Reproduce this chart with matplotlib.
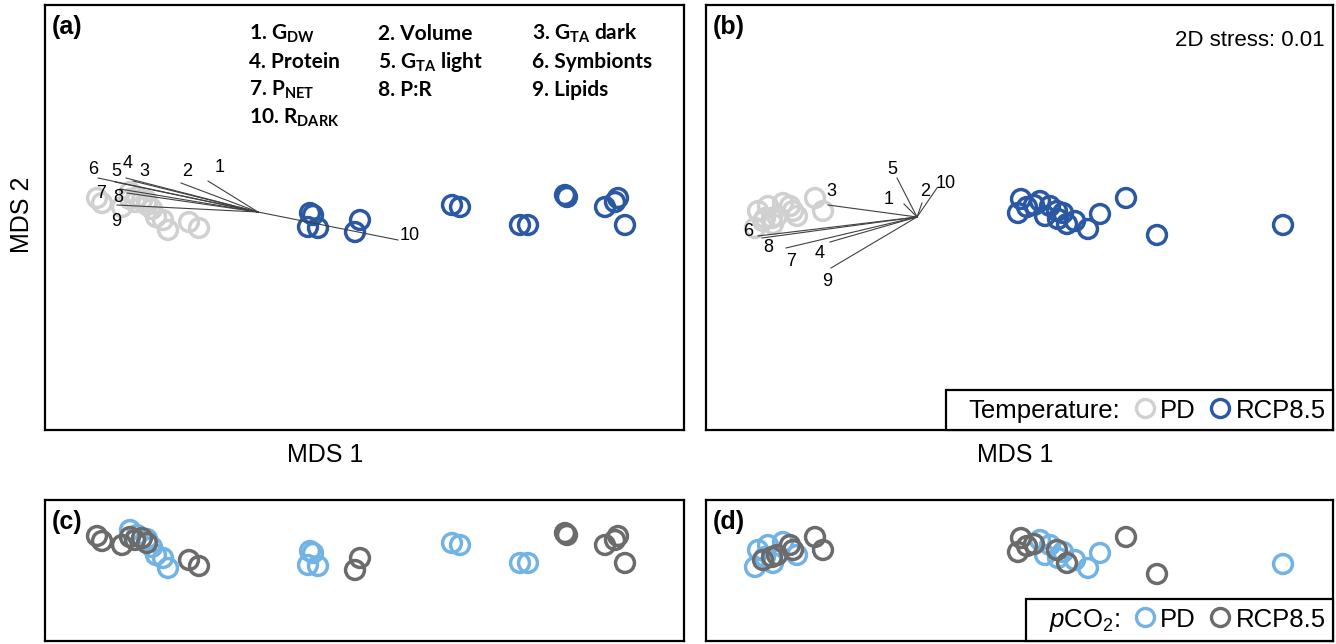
import matplotlib
matplotlib.use('Agg')
import matplotlib.pyplot as plt
from matplotlib.lines import Line2D

plt.rcParams['font.family'] = 'Liberation Sans'
plt.rcParams['mathtext.fontset'] = 'custom'
plt.rcParams['mathtext.rm'] = 'Liberation Sans'
plt.rcParams['mathtext.it'] = 'Liberation Sans:italic'
plt.rcParams['mathtext.bf'] = 'Liberation Sans:bold'

# nMDS scores (image units, y grows downwards)
# experiment 1 -> panels (a) and (c)
mds1_ac = [97, 102, 122, 130, 135, 142, 147, 189, 199, 130, 137, 147, 152, 156, 163, 168,
           310, 313, 308, 318, 360, 355, 452, 460, 520, 528, 565, 567, 605, 615, 618, 625]
mds2_ac = [198, 203, 207, 199, 202, 200, 205, 222, 228, 192, 197, 201, 209, 217, 220, 230,
           213, 215, 227, 228, 220, 232, 205, 207, 225, 225, 195, 197, 207, 202, 198, 225]
temp_ac = ['PD', 'PD', 'PD', 'PD', 'PD', 'PD', 'PD', 'PD', 'PD', 'PD', 'PD', 'PD', 'PD', 'PD', 'PD', 'PD',
           'RCP', 'RCP', 'RCP', 'RCP', 'RCP', 'RCP', 'RCP', 'RCP', 'RCP', 'RCP', 'RCP', 'RCP', 'RCP', 'RCP', 'RCP', 'RCP']
pco2_ac = ['RCP', 'RCP', 'RCP', 'RCP', 'RCP', 'RCP', 'RCP', 'RCP', 'RCP', 'PD', 'PD', 'PD', 'PD', 'PD', 'PD', 'PD',
           'PD', 'PD', 'PD', 'PD', 'RCP', 'RCP', 'PD', 'PD', 'PD', 'PD', 'RCP', 'RCP', 'RCP', 'RCP', 'RCP', 'RCP']

# experiment 2 -> panels (b) and (d)
mds1_bd = [758, 755, 768, 783, 797, 773, 765, 763, 772, 790, 793, 815, 823, 777,
           1021, 1018, 1027, 1034, 1057, 1067, 1126, 1157,
           1040, 1050, 1045, 1058, 1063, 1075, 1088, 1100, 1283]
mds2_bd = [211, 228, 206, 203, 216, 224, 218, 221, 218, 206, 211, 198, 211, 216,
           199, 213, 207, 205, 211, 224, 198, 235,
           201, 206, 216, 219, 213, 221, 229, 214, 225]
temp_bd = ['PD', 'PD', 'PD', 'PD', 'PD', 'PD', 'PD', 'PD', 'PD', 'PD', 'PD', 'PD', 'PD', 'PD',
           'RCP', 'RCP', 'RCP', 'RCP', 'RCP', 'RCP', 'RCP', 'RCP',
           'RCP', 'RCP', 'RCP', 'RCP', 'RCP', 'RCP', 'RCP', 'RCP', 'RCP']
pco2_bd = ['PD', 'PD', 'PD', 'PD', 'PD', 'PD', 'PD', 'RCP', 'RCP', 'RCP', 'RCP', 'RCP', 'RCP', 'RCP',
           'RCP', 'RCP', 'RCP', 'RCP', 'RCP', 'RCP', 'RCP', 'RCP',
           'PD', 'PD', 'PD', 'PD', 'PD', 'PD', 'PD', 'PD', 'PD']

# response-variable vectors (tips), numbered 1..10
vec_labels = ['1', '2', '3', '4', '5', '6', '7', '8', '9', '10']
origin_a = (258, 212)
vec_x_a = [208, 181, 133, 126, 115, 98, 120, 127, 117, 398]
vec_y_a = [181, 183, 181, 178, 182, 178, 189, 193, 205, 240]
origin_b = (917, 217)
vec_x_b = [904, 922, 828, 830, 897, 758, 786, 762, 831, 937]
vec_y_b = [204, 203, 205, 242, 178, 236, 248, 238, 268, 188]

# label offsets from vector tips (pixels, y up)
lab_off_a = [(12, 14), (6, 12), (11, 9), (2, 15), (1, 11), (-5, 8), (-19, -4), (-9, -4), (-1, -16), (12, 4)]
lab_off_b = [(-15, 4), (3, 12), (3, 13), (-10, -11), (-5, 8), (-10, 5), (5, -14), (6, -9), (-4, -14), (9, 4)]

var_names = [r'1. G$_{\mathregular{DW}}$', '2. Volume', r'3. G$_{\mathregular{TA}}$ dark',
             '4. Protein', r'5. G$_{\mathregular{TA}}$ light', '6. Symbionts',
             r'7. P$_{\mathregular{NET}}$', '8. P:R', '9. Lipids',
             r'10. R$_{\mathregular{DARK}}$']

temp_colors = {'PD': '#d0d0d0', 'RCP': '#2b58a3'}
pco2_colors = {'PD': '#72b3e6', 'RCP': '#6b6b6b'}

W, H = 1336, 644
fig = plt.figure(figsize=(W / 100, H / 100), dpi=100)


def px_axes(l, t, r, b):
    ax = fig.add_axes([l / W, 1 - b / H, (r - l) / W, (b - t) / H])
    ax.set_xlim(l, r)
    ax.set_xticks([])
    ax.set_yticks([])
    for s in ax.spines.values():
        s.set_linewidth(1.6)
        s.set_color('black')
    return ax


def scatter_groups(ax, x, y, groups, colors):
    for g in ['PD', 'RCP']:
        xs = [xi for xi, gi in zip(x, groups) if gi == g]
        ys = [yi for yi, gi in zip(y, groups) if gi == g]
        ax.scatter(xs, ys, s=185, facecolors='none', edgecolors=colors[g],
                   linewidths=2.5, zorder=2)


def draw_vectors(ax, origin, vx, vy, offs):
    for lab, ex, ey, off in zip(vec_labels, vx, vy, offs):
        ax.plot([origin[0], ex], [origin[1], ey], color='#404040', lw=0.8, zorder=3)
        ax.annotate(lab, xy=(ex, ey), xytext=off, textcoords='offset pixels',
                    ha='center', va='center', fontsize=13, zorder=4)


def panel_label(ax, text):
    ax.annotate(text, xy=(0, 1), xycoords='axes fraction', xytext=(7, -10),
                textcoords='offset pixels', ha='left', va='top',
                fontsize=18, fontweight='bold')


def group_legend(ax, title, colors):
    handles = [Line2D([], [], linestyle='none'),
               Line2D([], [], linestyle='none', marker='o', ms=13, mfc='none',
                      mec=colors['PD'], mew=2.4),
               Line2D([], [], linestyle='none', marker='o', ms=13, mfc='none',
                      mec=colors['RCP'], mew=2.4)]
    leg = ax.legend(handles, [title, 'PD', 'RCP8.5'], loc='lower right', ncol=3,
                    fontsize=18.5, borderaxespad=0, borderpad=0.28, handlelength=0,
                    handleheight=1.0, handletextpad=0.6, columnspacing=0.95,
                    fancybox=False, framealpha=1, edgecolor='black')
    leg.get_frame().set_linewidth(1.6)
    return leg


# (a) temperature, experiment 1
ax_a = px_axes(45, 5, 684, 430)
ax_a.set_ylim(430, 5)
scatter_groups(ax_a, mds1_ac, mds2_ac, temp_ac, temp_colors)
draw_vectors(ax_a, origin_a, vec_x_a, vec_y_a, lab_off_a)
panel_label(ax_a, '(a)')
col_x = [0.319, 0.521, 0.762]
row_y = [0.918, 0.852, 0.786, 0.72]
for i, name in enumerate(var_names):
    ax_a.text(col_x[i % 3], row_y[i // 3], name, transform=ax_a.transAxes,
              ha='left', va='baseline', fontsize=15, fontweight='bold', family='Lato')

# (b) temperature, experiment 2
ax_b = px_axes(706, 5, 1333, 430)
ax_b.set_ylim(430, 5)
scatter_groups(ax_b, mds1_bd, mds2_bd, temp_bd, temp_colors)
draw_vectors(ax_b, origin_b, vec_x_b, vec_y_b, lab_off_b)
panel_label(ax_b, '(b)')
ax_b.annotate('2D stress: 0.01', xy=(1, 1), xycoords='axes fraction', xytext=(-8, -25),
              textcoords='offset pixels', ha='right', va='top', fontsize=16)
group_legend(ax_b, 'Temperature:', temp_colors)

# (c) pCO2, experiment 1
ax_c = px_axes(45, 500, 684, 641)
ax_c.set_ylim(303, 162)
scatter_groups(ax_c, mds1_ac, mds2_ac, pco2_ac, pco2_colors)
panel_label(ax_c, '(c)')

# (d) pCO2, experiment 2
ax_d = px_axes(706, 500, 1333, 641)
ax_d.set_ylim(302, 161)
scatter_groups(ax_d, mds1_bd, mds2_bd, pco2_bd, pco2_colors)
panel_label(ax_d, '(d)')
group_legend(ax_d, r'$\mathit{p}$CO$_2$:', pco2_colors)

fig.text(22 / W, 1 - 215 / H, 'MDS 2', rotation=90, ha='center', va='center', fontsize=18)
fig.text(325 / W, 1 - 455 / H, 'MDS 1', ha='center', va='center', fontsize=18)
fig.text(1015 / W, 1 - 455 / H, 'MDS 1', ha='center', va='center', fontsize=18)

fig.savefig('out.png', dpi=100)
